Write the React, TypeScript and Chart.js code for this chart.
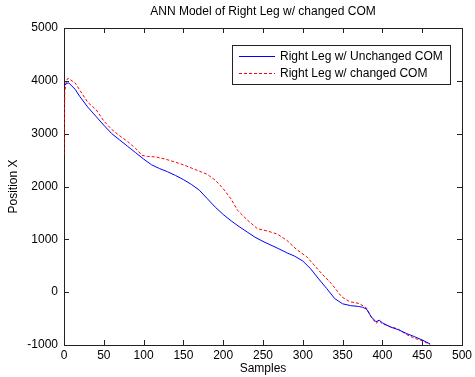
import React, { useEffect, useRef } from "react";
import { Chart, registerables } from "chart.js";

Chart.register(...registerables);

const TITLE = "ANN Model of Right Leg w/ changed COM";
const X_LABEL = "Samples";
const Y_LABEL = "Position X";
const SERIES_NAMES = ["Right Leg w/ Unchanged COM", "Right Leg w/ changed COM"];

const unchangedSamples = [0, 3, 6, 10, 14, 20, 30, 40, 50, 60, 70, 80, 90, 100, 110, 120, 130, 140, 150, 160, 170, 180, 190, 200, 210, 220, 230, 240, 250, 260, 270, 280, 290, 300, 310, 320, 330, 340, 350, 360, 370, 375, 380, 386, 392, 396, 400, 410, 420, 430, 440, 450, 460];
const unchangedValues = [3900, 3950, 3960, 3900, 3840, 3700, 3500, 3330, 3160, 3000, 2880, 2760, 2640, 2520, 2410, 2340, 2280, 2210, 2130, 2040, 1930, 1770, 1610, 1470, 1350, 1240, 1140, 1040, 960, 890, 820, 745, 680, 590, 440, 250, 70, -120, -220, -255, -270, -285, -320, -466, -560, -530, -580, -660, -710, -780, -840, -905, -980];

const changedSamples = [0, 1, 3, 5, 10, 14, 20, 30, 40, 50, 60, 70, 80, 90, 98, 105, 115, 127, 140, 150, 160, 170, 180, 190, 200, 210, 218, 230, 243, 255, 268, 280, 292, 305, 315, 322, 336, 349, 359, 371, 380, 386, 392, 396, 400, 410, 420, 430, 440, 450, 460];
const changedValues = [2600, 3800, 4000, 4050, 4000, 3960, 3820, 3590, 3460, 3240, 3080, 2960, 2850, 2720, 2590, 2570, 2560, 2520, 2460, 2410, 2350, 2290, 2230, 2120, 1960, 1760, 1550, 1370, 1200, 1160, 1100, 980, 810, 670, 500, 380, 160, -90, -180, -215, -300, -470, -590, -540, -600, -650, -700, -800, -870, -920, -990];

const xTicks = [0, 50, 100, 150, 200, 250, 300, 350, 400, 450, 500];
const yTicks = [-1000, 0, 1000, 2000, 3000, 4000, 5000];

const FONT = "Arial, 'Liberation Sans', sans-serif";
const BLUE = "#0000ff";
const RED = "#ff0000";
const AXIS = "#222";

const decorPlugin = {
  id: "decor",
  beforeDatasetsDraw(chart: any) {
    const { ctx, chartArea } = chart;
    const { left, right, top, bottom } = chartArea;
    const xs = chart.scales.x;
    const ys = chart.scales.y;
    ctx.save();
    ctx.strokeStyle = AXIS;
    ctx.lineWidth = 1;
    ctx.strokeRect(Math.round(left) + 0.5, Math.round(top) + 0.5, Math.round(right - left), Math.round(bottom - top));
    const tl = 5;
    ctx.beginPath();
    xTicks.forEach((v) => {
      const px = Math.round(xs.getPixelForValue(v)) + 0.5;
      ctx.moveTo(px, bottom);
      ctx.lineTo(px, bottom - tl);
      ctx.moveTo(px, top);
      ctx.lineTo(px, top + tl);
    });
    yTicks.forEach((v) => {
      const py = Math.round(ys.getPixelForValue(v)) + 0.5;
      ctx.moveTo(left, py);
      ctx.lineTo(left + tl, py);
      ctx.moveTo(right, py);
      ctx.lineTo(right - tl, py);
    });
    ctx.stroke();
    ctx.restore();
  },
  afterDraw(chart: any) {
    const { ctx, chartArea } = chart;
    const { left, right, top, bottom } = chartArea;
    ctx.save();
    ctx.fillStyle = "#000";
    ctx.font = `12px ${FONT}`;
    ctx.textAlign = "center";
    ctx.textBaseline = "middle";
    ctx.fillText(TITLE, (left + right) / 2, 12);
    ctx.fillText(X_LABEL, (left + right) / 2, 369);
    ctx.save();
    ctx.translate(14, (top + bottom) / 2);
    ctx.rotate(-Math.PI / 2);
    ctx.fillText(Y_LABEL, 0, 0);
    ctx.restore();
    // legend
    const lx = 232.5, ly = 45.5, lw = 218, lh = 39;
    ctx.fillStyle = "#fff";
    ctx.fillRect(lx, ly, lw, lh);
    ctx.strokeStyle = AXIS;
    ctx.lineWidth = 1;
    ctx.strokeRect(lx, ly, lw, lh);
    const rows = [56, 73];
    const colors = [BLUE, RED];
    const dashes = [[], [3, 2]];
    rows.forEach((ry, i) => {
      ctx.beginPath();
      ctx.strokeStyle = colors[i];
      ctx.lineWidth = 1;
      ctx.setLineDash(dashes[i]);
      ctx.moveTo(239, ry + 0.5);
      ctx.lineTo(275, ry + 0.5);
      ctx.stroke();
      ctx.setLineDash([]);
      ctx.fillStyle = "#000";
      ctx.textAlign = "left";
      ctx.fillText(SERIES_NAMES[i], 280, ry + 1);
    });
    ctx.restore();
  },
};

export default function App() {
  const ref = useRef<HTMLCanvasElement | null>(null);
  useEffect(() => {
    document.body.style.margin = "0";
    const canvas = ref.current!;
    const chart = new Chart(canvas, {
      type: "line",
      data: {
        datasets: [
          {
            label: SERIES_NAMES[0],
            data: unchangedSamples.map((s, i) => ({ x: s, y: unchangedValues[i] })),
            borderColor: BLUE,
            borderWidth: 1,
            pointRadius: 0,
            tension: 0,
            fill: false,
          },
          {
            label: SERIES_NAMES[1],
            data: changedSamples.map((s, i) => ({ x: s, y: changedValues[i] })),
            borderColor: RED,
            borderWidth: 1,
            borderDash: [3, 2],
            pointRadius: 0,
            tension: 0,
            fill: false,
          },
        ],
      },
      options: {
        animation: false,
        responsive: false,
        maintainAspectRatio: false,
        layout: { padding: { top: 28, right: 9, left: 0, bottom: 0 } },
        plugins: {
          legend: { display: false },
          title: { display: false },
          tooltip: { enabled: false },
        },
        scales: {
          x: {
            type: "linear",
            min: 0,
            max: 500,
            afterFit: (s: any) => { s.height = 32; },
            afterBuildTicks: (s: any) => { s.ticks = xTicks.map((v) => ({ value: v })); },
            ticks: { font: { size: 12, family: FONT }, color: "#000", padding: 3, maxRotation: 0, autoSkip: false, callback: (v: any) => String(v) },
            grid: { display: false, drawTicks: false },
            border: { display: false },
          },
          y: {
            type: "linear",
            min: -1000,
            max: 5000,
            afterFit: (s: any) => { s.width = 64; },
            afterBuildTicks: (s: any) => { s.ticks = yTicks.map((v) => ({ value: v })); },
            ticks: { font: { size: 12, family: FONT }, color: "#000", padding: 6, autoSkip: false, callback: (v: any) => String(v) },
            grid: { display: false, drawTicks: false },
            border: { display: false },
          },
        },
      },
      plugins: [decorPlugin],
    });
    return () => chart.destroy();
  }, []);
  return (
    <div style={{ width: 475, height: 377, background: "#fff" }}>
      <canvas ref={ref} width={475} height={377} style={{ display: "block" }} />
    </div>
  );
}
